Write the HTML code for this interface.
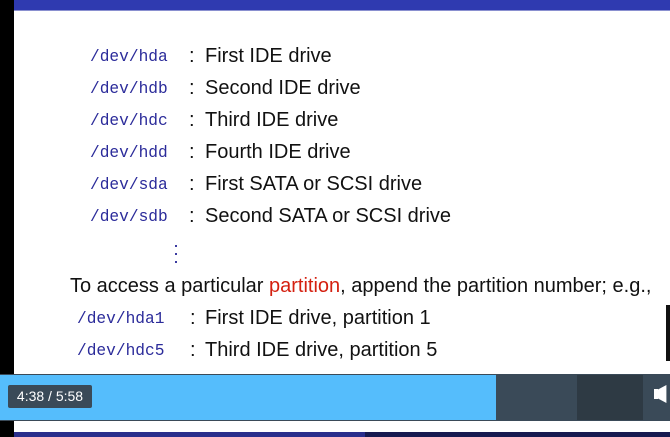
<!DOCTYPE html>
<html><head><style>
body{margin:0;width:670px;height:437px;position:relative;overflow:hidden;background:#fff;font-family:"Liberation Sans",sans-serif;}
.a{position:absolute;white-space:nowrap;}
.m{font-family:"Liberation Mono",monospace;color:#2b2b9a;font-size:16.2px;}
.t{font-size:20px;color:#111;}
.d{position:absolute;width:2px;height:2px;background:#3a3aa0;left:175px;}
</style></head><body>
<div class="a" style="left:0;top:0;width:14px;height:437px;background:#000"></div>
<div class="a" style="left:14px;top:0;width:656px;height:10px;background:#2f3ab0"></div>
<div class="a" style="left:14px;top:10px;width:656px;height:1px;background:#8a90d0"></div>

<div class="a m" style="left:90px;top:48px">/dev/hda</div><div class="a t" style="left:189px;top:45px">:</div><div class="a t" style="left:205px;top:45px">First IDE drive</div>
<div class="a m" style="left:90px;top:80px">/dev/hdb</div><div class="a t" style="left:189px;top:77px">:</div><div class="a t" style="left:205px;top:77px">Second IDE drive</div>
<div class="a m" style="left:90px;top:112px">/dev/hdc</div><div class="a t" style="left:189px;top:109px">:</div><div class="a t" style="left:205px;top:109px">Third IDE drive</div>
<div class="a m" style="left:90px;top:144px">/dev/hdd</div><div class="a t" style="left:189px;top:141px">:</div><div class="a t" style="left:205px;top:141px">Fourth IDE drive</div>
<div class="a m" style="left:90px;top:176px">/dev/sda</div><div class="a t" style="left:189px;top:173px">:</div><div class="a t" style="left:205px;top:173px">First SATA or SCSI drive</div>
<div class="a m" style="left:90px;top:208px">/dev/sdb</div><div class="a t" style="left:189px;top:205px">:</div><div class="a t" style="left:205px;top:205px">Second SATA or SCSI drive</div>
<div class="d" style="top:245px"></div><div class="d" style="top:253px"></div><div class="d" style="top:261px"></div>
<div class="a t" style="left:70px;top:275px">To access a particular <span style="color:#d42010">partition</span>, append the partition number; e.g.,</div>
<div class="a m" style="left:77px;top:310px">/dev/hda1</div><div class="a t" style="left:190px;top:307px">:</div><div class="a t" style="left:205px;top:307px">First IDE drive, partition 1</div>
<div class="a m" style="left:77px;top:342px">/dev/hdc5</div><div class="a t" style="left:190px;top:339px">:</div><div class="a t" style="left:205px;top:339px">Third IDE drive, partition 5</div>
<div class="a" style="left:666px;top:305px;width:4px;height:56px;background:#111"></div>

<div class="a" style="left:0;top:374px;width:670px;height:47px;background:#3a4a58"></div>
<div class="a" style="left:0;top:375px;width:496px;height:45px;background:#55bdfc"></div>
<div class="a" style="left:577px;top:375px;width:66px;height:45px;background:#2e3a44"></div>
<div class="a" style="left:8px;top:385px;width:84px;height:23px;background:#3a4a58;border-radius:2px;color:#fff;font-size:14px;line-height:23px;text-align:center">4:38 / 5:58</div>
<div class="a" style="left:654px;top:389px;width:4px;height:10px;background:#fff"></div>
<div class="a" style="left:658px;top:385px;width:12px;height:18px;background:#fff;clip-path:polygon(0 25%,70% 0,70% 100%,0 75%)"></div>
<div class="a" style="left:14px;top:421px;width:656px;height:11px;background:#fff"></div>
<div class="a" style="left:14px;top:432px;width:351px;height:5px;background:#2a2e8c"></div>
<div class="a" style="left:365px;top:432px;width:305px;height:5px;background:#161a50"></div>
</body></html>
